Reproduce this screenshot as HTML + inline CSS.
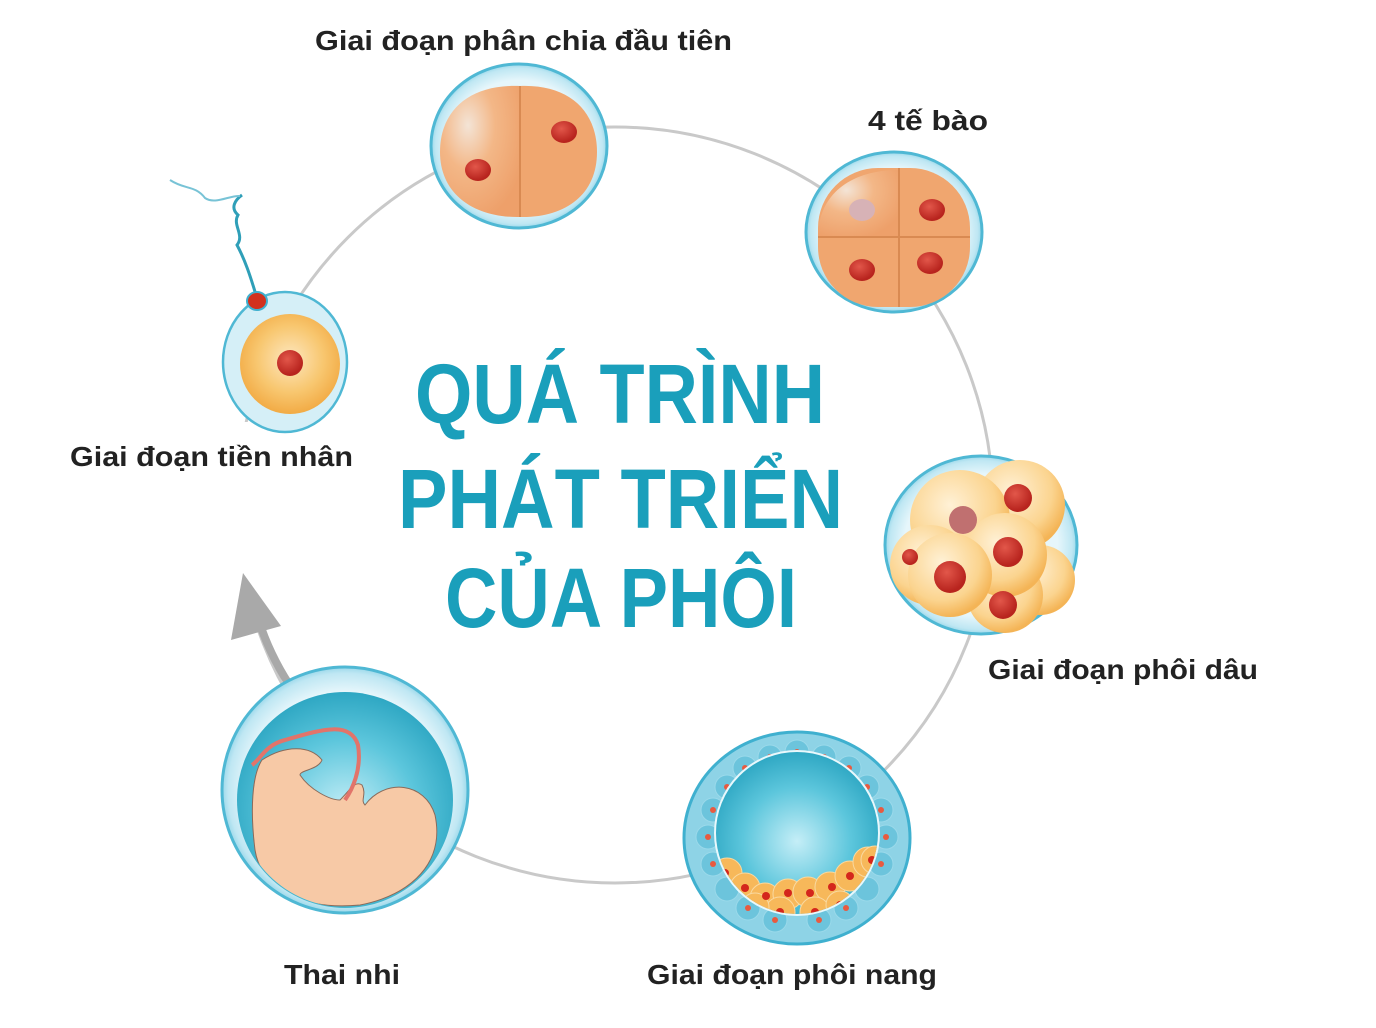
<!DOCTYPE html>
<html><head><meta charset="utf-8"><style>
html,body{margin:0;padding:0;background:#fff;}
svg{display:block;}
text{font-family:"Liberation Sans",sans-serif;font-weight:bold;}
</style></head><body>
<svg width="1376" height="1028" viewBox="0 0 1376 1028" xmlns="http://www.w3.org/2000/svg">
<defs>
<radialGradient id="shell" cx="50%" cy="50%" r="50%">
<stop offset="80%" stop-color="#e6f6fb"/><stop offset="95%" stop-color="#bfe7f3"/><stop offset="100%" stop-color="#9ad8ea"/>
</radialGradient>
<radialGradient id="orange" cx="35%" cy="30%" r="75%">
<stop offset="0%" stop-color="#f3e4d6"/><stop offset="45%" stop-color="#f3b787"/><stop offset="100%" stop-color="#eea06a"/>
</radialGradient>
<radialGradient id="yolk" cx="50%" cy="45%" r="55%">
<stop offset="0%" stop-color="#fde7c0"/><stop offset="60%" stop-color="#f8c770"/><stop offset="100%" stop-color="#f2ab45"/>
</radialGradient>
<radialGradient id="mcell" cx="40%" cy="35%" r="65%">
<stop offset="0%" stop-color="#fff1d6"/><stop offset="70%" stop-color="#fbd48f"/><stop offset="100%" stop-color="#f4b456"/>
</radialGradient>
<radialGradient id="cav" cx="50%" cy="55%" r="55%">
<stop offset="0%" stop-color="#c5eef7"/><stop offset="60%" stop-color="#5cc6dc"/><stop offset="100%" stop-color="#2ea7c3"/>
</radialGradient>
<radialGradient id="nuc" cx="40%" cy="35%" r="60%">
<stop offset="0%" stop-color="#e2574a"/><stop offset="100%" stop-color="#b8241e"/>
</radialGradient>
</defs>

<circle cx="615" cy="505" r="378" fill="none" stroke="#c9c9c9" stroke-width="3"/>
<rect x="220" y="422" width="45" height="160" fill="#fff"/>
<path d="M300,700 Q270,660 256,612" fill="none" stroke="#a9a9a9" stroke-width="8"/>
<polygon points="243,573 231,640 281,626" fill="#a9a9a9"/>

<ellipse cx="519" cy="146" rx="88" ry="82" fill="url(#shell)" stroke="#4fb8d4" stroke-width="3"/>
<path d="M520,86 C470,84 440,110 440,152 C440,195 475,218 520,217 Z" fill="url(#orange)"/>
<path d="M520,86 C570,84 597,112 597,152 C597,195 565,218 520,217 Z" fill="#f0a66f"/>
<line x1="520" y1="86" x2="520" y2="217" stroke="#d98a52" stroke-width="2"/>
<ellipse cx="478" cy="170" rx="13" ry="11" fill="url(#nuc)"/>
<ellipse cx="564" cy="132" rx="13" ry="11" fill="url(#nuc)"/>

<ellipse cx="894" cy="232" rx="88" ry="80" fill="url(#shell)" stroke="#4fb8d4" stroke-width="3"/>
<rect x="818" y="168" width="152" height="139" rx="60" fill="#f0a66f"/>
<path d="M899,170 L899,237 L818,237 C818,195 850,170 899,170Z" fill="url(#orange)"/>
<line x1="818" y1="237" x2="970" y2="237" stroke="#d98a52" stroke-width="2"/>
<line x1="899" y1="168" x2="899" y2="307" stroke="#d98a52" stroke-width="2"/>
<ellipse cx="862" cy="210" rx="13" ry="11" fill="#d7b2b6"/>
<ellipse cx="932" cy="210" rx="13" ry="11" fill="url(#nuc)"/>
<ellipse cx="862" cy="270" rx="13" ry="11" fill="url(#nuc)"/>
<ellipse cx="930" cy="263" rx="13" ry="11" fill="url(#nuc)"/>

<ellipse cx="981" cy="545" rx="96" ry="89" fill="url(#shell)" stroke="#4fb8d4" stroke-width="3"/>
<circle cx="1020" cy="505" r="45" fill="url(#mcell)"/>
<circle cx="960" cy="520" r="50" fill="url(#mcell)"/>
<circle cx="930" cy="565" r="40" fill="url(#mcell)"/>
<circle cx="1040" cy="580" r="35" fill="url(#mcell)"/>
<circle cx="1005" cy="595" r="38" fill="url(#mcell)"/>
<circle cx="1005" cy="555" r="42" fill="url(#mcell)"/>
<circle cx="950" cy="575" r="42" fill="url(#mcell)"/>
<circle cx="963" cy="520" r="14" fill="#c07070"/>
<circle cx="1018" cy="498" r="14" fill="url(#nuc)"/>
<circle cx="1008" cy="552" r="15" fill="url(#nuc)"/>
<circle cx="950" cy="577" r="16" fill="url(#nuc)"/>
<circle cx="1003" cy="605" r="14" fill="url(#nuc)"/>
<circle cx="910" cy="557" r="8" fill="url(#nuc)"/>

<ellipse cx="797" cy="838" rx="113" ry="106" fill="#8ed3e6" stroke="#3fb0cf" stroke-width="3"/>
<g fill="#6cc4dc" stroke="#9ad9ea" stroke-width="1">
<circle cx="797" cy="752" r="12"/><circle cx="770" cy="757" r="12"/><circle cx="824" cy="757" r="12"/>
<circle cx="745" cy="768" r="12"/><circle cx="849" cy="768" r="12"/><circle cx="727" cy="787" r="12"/><circle cx="867" cy="787" r="12"/>
<circle cx="713" cy="810" r="12"/><circle cx="881" cy="810" r="12"/><circle cx="708" cy="837" r="12"/><circle cx="886" cy="837" r="12"/>
<circle cx="713" cy="864" r="12"/><circle cx="881" cy="864" r="12"/><circle cx="727" cy="889" r="12"/><circle cx="867" cy="889" r="12"/>
<circle cx="748" cy="908" r="12"/><circle cx="846" cy="908" r="12"/><circle cx="775" cy="920" r="12"/><circle cx="819" cy="920" r="12"/>
</g>
<g fill="#e85a40">
<circle cx="797" cy="752" r="3"/><circle cx="770" cy="757" r="3"/><circle cx="824" cy="757" r="3"/><circle cx="745" cy="768" r="3"/><circle cx="849" cy="768" r="3"/>
<circle cx="727" cy="787" r="3"/><circle cx="867" cy="787" r="3"/><circle cx="713" cy="810" r="3"/><circle cx="881" cy="810" r="3"/>
<circle cx="708" cy="837" r="3"/><circle cx="886" cy="837" r="3"/><circle cx="713" cy="864" r="3"/><circle cx="881" cy="864" r="3"/>
<circle cx="748" cy="908" r="3"/><circle cx="846" cy="908" r="3"/><circle cx="775" cy="920" r="3"/><circle cx="819" cy="920" r="3"/>
</g>
<circle cx="797" cy="833" r="82" fill="url(#cav)" stroke="#e8f8fc" stroke-width="2"/>
<clipPath id="cc"><circle cx="797" cy="833" r="81"/></clipPath>
<g clip-path="url(#cc)" fill="#f7b85a" stroke="#f9d9a0" stroke-width="1">
<circle cx="727" cy="873" r="15"/><circle cx="745" cy="888" r="15"/><circle cx="765" cy="898" r="15"/><circle cx="788" cy="894" r="15"/>
<circle cx="808" cy="892" r="15"/><circle cx="830" cy="887" r="15"/><circle cx="850" cy="876" r="15"/><circle cx="868" cy="862" r="15"/>
<circle cx="875" cy="860" r="14"/><circle cx="780" cy="912" r="15"/><circle cx="815" cy="912" r="15"/><circle cx="755" cy="907" r="14"/><circle cx="840" cy="905" r="14"/>
</g>
<g clip-path="url(#cc)" fill="#d4261c">
<circle cx="725" cy="873" r="4"/><circle cx="745" cy="888" r="4"/><circle cx="766" cy="896" r="4"/><circle cx="788" cy="893" r="4"/>
<circle cx="810" cy="893" r="4"/><circle cx="832" cy="887" r="4"/><circle cx="850" cy="876" r="4"/><circle cx="872" cy="860" r="4"/>
<circle cx="780" cy="912" r="4"/><circle cx="815" cy="912" r="4"/><circle cx="757" cy="908" r="4"/><circle cx="840" cy="905" r="4"/>
</g>

<ellipse cx="345" cy="790" rx="123" ry="123" fill="url(#shell)" stroke="#4fb8d4" stroke-width="3"/>
<circle cx="345" cy="800" r="108" fill="url(#cav)"/>
<clipPath id="fc"><circle cx="345" cy="800" r="107"/></clipPath>
<g clip-path="url(#fc)">
<path d="M262,760 C285,745 310,745 322,760 C318,770 300,770 300,775 C310,790 330,800 340,800 C350,790 355,780 362,785 C367,795 360,800 365,805 C385,778 425,782 435,815 C445,862 412,895 360,905 C308,910 262,893 255,850 C250,810 252,775 262,760Z" fill="#f7c9a6" stroke="#8a6a5a" stroke-width="1"/>
<path d="M252,765 C260,760 265,745 285,740 C320,730 350,720 358,745 C362,770 352,790 345,800" fill="none" stroke="#e2746a" stroke-width="4"/>
</g>

<path d="M242,195 C235,200 230,208 238,215 C232,225 245,235 237,245 C245,260 250,275 256,295" fill="none" stroke="#2f9fb8" stroke-width="3"/>
<path d="M170,180 C185,190 195,185 205,198 C215,205 230,195 240,196" fill="none" stroke="#78c3d6" stroke-width="2"/>
<ellipse cx="285" cy="362" rx="62" ry="70" fill="#d5eff7" stroke="#4fb8d4" stroke-width="2.5"/>
<circle cx="290" cy="364" r="50" fill="url(#yolk)"/>
<circle cx="290" cy="363" r="13" fill="url(#nuc)"/>
<ellipse cx="257" cy="301" rx="10" ry="9" fill="#d2311e" stroke="#3fb0cf" stroke-width="2"/>

<g fill="#1a9fbb" font-size="84">
<text x="415" y="423" textLength="410" lengthAdjust="spacingAndGlyphs">QUÁ TRÌNH</text>
<text x="398" y="528" textLength="445" lengthAdjust="spacingAndGlyphs">PHÁT TRIỂN</text>
<text x="445" y="627" textLength="352" lengthAdjust="spacingAndGlyphs">CỦA PHÔI</text>
</g>

<g fill="#222" font-size="28">
<text x="315" y="50" textLength="417" lengthAdjust="spacingAndGlyphs">Giai đoạn phân chia đầu tiên</text>
<text x="868" y="130" textLength="120" lengthAdjust="spacingAndGlyphs">4 tế bào</text>
<text x="70" y="466" textLength="283" lengthAdjust="spacingAndGlyphs">Giai đoạn tiền nhân</text>
<text x="988" y="679" textLength="270" lengthAdjust="spacingAndGlyphs">Giai đoạn phôi dâu</text>
<text x="284" y="984" textLength="116" lengthAdjust="spacingAndGlyphs">Thai nhi</text>
<text x="647" y="984" textLength="290" lengthAdjust="spacingAndGlyphs">Giai đoạn phôi nang</text>
</g>
</svg>
</body></html>
